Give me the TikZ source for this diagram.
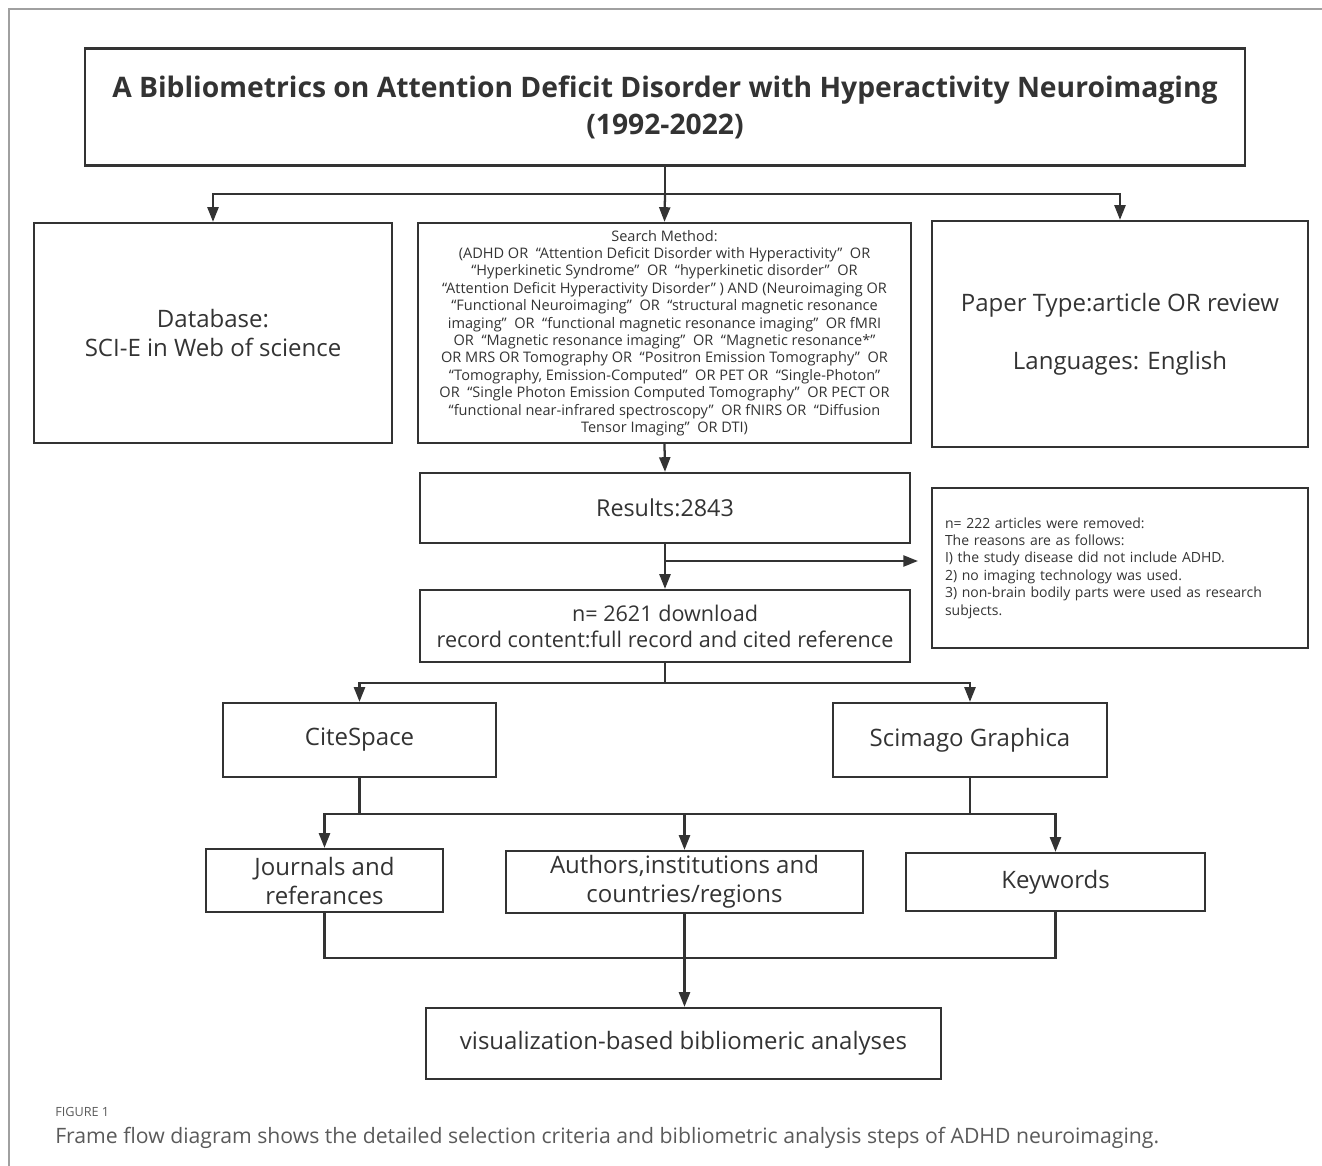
\documentclass[tikz,border=0pt]{standalone}
\usepackage{fontspec}
\setmainfont{Open Sans}
\usepackage{xcolor}
\usetikzlibrary{arrows.meta}
\definecolor{ink}{HTML}{333333}
\definecolor{capgray}{HTML}{5A5A5A}
\definecolor{framegray}{HTML}{A0A0A0}
\tikzset{
  box/.style={draw=ink, line width=1.7pt, text=ink, align=center, inner sep=0pt},
  link/.style={draw=ink, line width=1.7pt},
  arr/.style={link, -{Triangle[width=8.25pt,length=11pt]}},
  big/.style={font=\fontsize{18}{21.75}\selectfont},
}

\begin{document}
\begin{tikzpicture}[x=0.75pt,y=0.75pt,yscale=-1,xscale=1]
\useasboundingbox (0,0) rectangle (1322,1166);
%Frame of the figure panel
\draw[framegray, line width=1.5pt] (9,1166) -- (9,9) -- (1322,9);

%Shape: Rectangle (title)
\node[box, minimum width=870pt, minimum height=87.75pt, font=\fontsize{21.2}{27.75}\selectfont\bfseries] (title) at (665,107)
  {A Bibliometrics on Attention Deficit Disorder with Hyperactivity Neuroimaging\\(1992-2022)};

%Shape: Rectangle (three columns)
\node[box, big, minimum width=268.5pt, minimum height=165pt] (db) at (213,333)
  {Database:\\SCI-E in Web of science};
\node[box, minimum width=369.75pt, minimum height=165pt, font=\fontsize{10.9}{13.05}\selectfont] (search) at (664.5,333)
  {Search Method:\\
  (ADHD OR \ “Attention Deficit Disorder with Hyperactivity”\ \ OR\\
  “Hyperkinetic Syndrome”\ \ OR \ “hyperkinetic disorder”\ \ OR\\
  “Attention Deficit Hyperactivity Disorder”\ ) AND (Neuroimaging OR\\
  “Functional Neuroimaging”\ \ OR \ “structural magnetic resonance\\
  imaging”\ \ OR \ “functional magnetic resonance imaging”\ \ OR fMRI\\
  OR \ “Magnetic resonance imaging”\ \ OR \ “Magnetic resonance*”\\
  OR MRS OR Tomography OR \ “Positron Emission Tomography”\ \ OR\\
  “Tomography, Emission-Computed”\ \ OR PET OR \ “Single-Photon”\\
  OR \ “Single Photon Emission Computed Tomography”\ \ OR PECT OR\\
  “functional near-infrared spectroscopy”\ \ OR fNIRS OR \ “Diffusion\\
  Tensor Imaging”\ \ OR DTI)};
\node[box, big, minimum width=282pt, minimum height=169.5pt] (paper) at (1120,334)
  {Paper Type:article OR review\\[21.75pt]Languages: English};

%Shape: Rectangle (selection)
\node[box, minimum width=367.5pt, minimum height=52.5pt, font=\fontsize{17.5}{21.75}\selectfont] (results) at (665,508) {Results:2843};
\node[box, minimum height=120pt, text width=262.5pt, inner xsep=9.75pt, align=left, font=\fontsize{10.5}{13.05}\selectfont] (removed) at (1120,568)
  {n= 222 articles were removed:\\
  The reasons are as follows:\\
  I) the study disease did not include ADHD.\\
  2) no imaging technology was used.\\
  3) non-brain bodily parts were used as research\\
  subjects.};
\node[box, minimum width=367.5pt, minimum height=54pt, font=\fontsize{16.2}{19.5}\selectfont] (down) at (665,626)
  {n= 2621 download\\record content:full record and cited reference};

%Shape: Rectangle (tools)
\node[box, big, minimum width=204.75pt, minimum height=55.5pt] (cite) at (359.5,740) {CiteSpace};
\node[box, big, minimum width=205.5pt, minimum height=55.5pt] (scim) at (970,740) {Scimago Graphica};

%Shape: Rectangle (analyses)
\node[box, big, minimum width=177.75pt, minimum height=47.25pt] (journals) at (324.5,880.5) {Journals and\\referances};
\node[box, big, minimum width=267.75pt, minimum height=46.5pt] (authors) at (684.5,882) {Authors,institutions and\\countries/regions};
\node[box, big, minimum width=224.25pt, minimum height=43.5pt] (keywords) at (1055.5,882) {Keywords};
\node[box, big, minimum width=386.25pt, minimum height=53.25pt] (vis) at (683.5,1043.5) {visualization-based bibliomeric analyses};

% Text Node
\node[anchor=west, inner sep=0pt, text=capgray, font=\fontsize{9.5}{11}\selectfont] (figlabel) at (55,1112) {FIGURE 1};
\node[anchor=west, inner sep=0pt, text=capgray, font=\fontsize{15.9}{18}\selectfont] (caption) at (55,1138)
  {Frame flow diagram shows the detailed selection criteria and bibliometric analysis steps of ADHD neuroimaging.};

%Straight Lines
\coordinate (split1) at (665,194);
\draw[link] (title.south) -- (split1);
\draw[arr] (split1) -| (db.north);
\draw[arr] (split1) -- (search.north);
\draw[arr] (split1) -| (paper.north);
\draw[arr] (search.south) -- (results.north);
\draw[arr] (results.south) -- (down.north);
\coordinate (split2) at (665,561);
\coordinate (cut) at (918,561);
\draw[arr] (split2) -- (cut);
\coordinate (split3) at (665,683);
\draw[link] (down.south) -- (split3);
\draw[arr] (split3) -| (cite.north);
\draw[arr] (split3) -| (scim.north);
\coordinate (split4) at (359.5,814);
\draw[link] (cite.south) -- (split4);
\draw[arr] (split4) -| (journals.north);
\draw[arr] (split4) -| (authors.north);
\draw[link] (scim.south) |- (authors.north |- split4);
\draw[arr] (scim.south) |- (keywords.north |- split4) -- (keywords.north);
\coordinate (merge) at (684,958);
\draw[link] (journals.south) |- (merge);
\draw[link] (keywords.south) |- (merge);
\draw[arr] (authors.south) -- (authors.south |- vis.north);

\end{tikzpicture}
\end{document}
